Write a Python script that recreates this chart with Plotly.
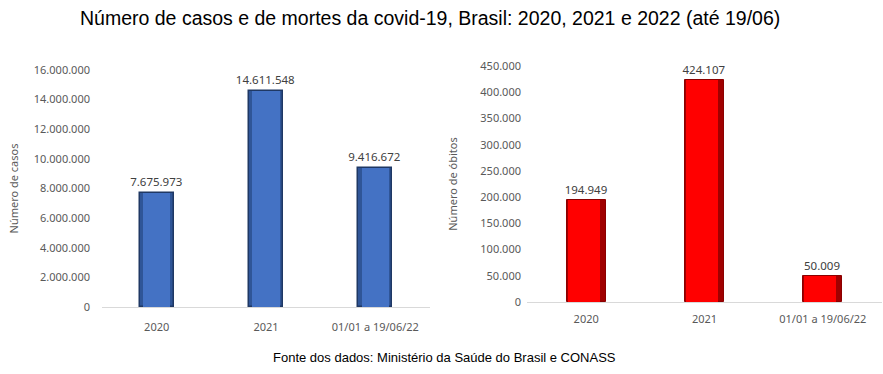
import plotly.graph_objects as go

categories = ["2020", "2021", "01/01 a 19/06/22"]
casos = [7675973, 14611548, 9416672]
obitos = [194949, 424107, 50009]
casos_labels = ["7.675.973", "14.611.548", "9.416.672"]
obitos_labels = ["194.949", "424.107", "50.009"]
casos_ticks = [0, 2000000, 4000000, 6000000, 8000000, 10000000, 12000000, 14000000, 16000000]
casos_ticktext = ["0", "2.000.000", "4.000.000", "6.000.000", "8.000.000", "10.000.000", "12.000.000", "14.000.000", "16.000.000"]
obitos_ticks = [0, 50000, 100000, 150000, 200000, 250000, 300000, 350000, 400000, 450000]
obitos_ticktext = ["0", "50.000", "100.000", "150.000", "200.000", "250.000", "300.000", "350.000", "400.000", "450.000"]

W, H = 883, 374
FONT = "Noto Sans, DejaVu Sans"
tickfont = dict(family=FONT, size=11, color="#595959")
labelfont = dict(family=FONT, size=11.5, color="#404040")
titlefont = dict(family=FONT, size=11, color="#595959")

fig = go.Figure()
# Casos: dark outer bar + lighter inner bar for bevel look
fig.add_trace(go.Bar(x=categories, y=casos, width=0.31, marker=dict(color="#2F5597", line=dict(color="#1F3864", width=1.5)),
                     text=casos_labels, textposition="outside", textfont=labelfont, cliponaxis=False,
                     constraintext="none", xaxis="x", yaxis="y", hoverinfo="skip"))
fig.add_trace(go.Bar(x=categories, y=casos, width=0.25, marker=dict(color="#4472C4", line=dict(width=0)),
                     xaxis="x", yaxis="y", hoverinfo="skip"))
# Óbitos
fig.add_trace(go.Bar(x=categories, y=obitos, width=0.33, marker=dict(color="#A00000", line=dict(color="#8B0000", width=1)),
                     text=obitos_labels, textposition="outside", textfont=labelfont, cliponaxis=False,
                     constraintext="none", xaxis="x2", yaxis="y2", hoverinfo="skip"))
fig.add_trace(go.Bar(x=categories, y=obitos, width=0.27, offset=-0.155, marker=dict(color="#FF0000", line=dict(width=0)),
                     xaxis="x2", yaxis="y2", hoverinfo="skip"))

fig.update_layout(
    width=W, height=H, margin=dict(l=0, r=0, t=0, b=0, autoexpand=False),
    paper_bgcolor="white", plot_bgcolor="white", showlegend=False,
    barmode="overlay", bargap=0,
    xaxis=dict(domain=[102 / W, 430 / W], anchor="y", showline=True, linecolor="#D9D9D9", linewidth=1, automargin=False,
               ticks="", tickfont=tickfont, showgrid=False, ticklabelstandoff=10),
    yaxis=dict(domain=[67 / H, 304 / H], anchor="x", range=[0, 16000000], tickvals=casos_ticks, ticktext=casos_ticktext,
               tickfont=tickfont, showgrid=False, zeroline=False, ticks="", ticklabelstandoff=11, automargin=False,
               title=dict(text="Número de casos", font=titlefont, standoff=12)),
    xaxis2=dict(domain=[527 / W, 882 / W], anchor="y2", showline=True, linecolor="#D9D9D9", linewidth=1, automargin=False,
                ticks="", tickfont=tickfont, showgrid=False, ticklabelstandoff=7),
    yaxis2=dict(domain=[72 / H, 308 / H], anchor="x2", range=[0, 450000], tickvals=obitos_ticks, ticktext=obitos_ticktext,
                tickfont=tickfont, showgrid=False, zeroline=False, ticks="", ticklabelstandoff=5, automargin=False,
                title=dict(text="Número de óbitos", font=titlefont, standoff=20)),
    annotations=[
        dict(text="Número de casos e de mortes da covid-19, Brasil: 2020, 2021 e 2022 (até 19/06)",
             x=430 / W, y=1 - 18 / H, xref="paper", yref="paper", showarrow=False, xanchor="center", yanchor="middle",
             font=dict(family="Liberation Sans, Arial", size=19.5, color="black")),
        dict(text="Fonte dos dados: Ministério da Saúde do Brasil e CONASS",
             x=444 / W, y=1 - 357 / H, xref="paper", yref="paper", showarrow=False, xanchor="center", yanchor="middle",
             font=dict(family="Liberation Sans, Arial", size=13, color="black")),
    ],
)

fig.write_html("out.html", config={"displayModeBar": False},
               post_script="document.body.style.margin='0px';document.body.style.overflow='hidden';")
